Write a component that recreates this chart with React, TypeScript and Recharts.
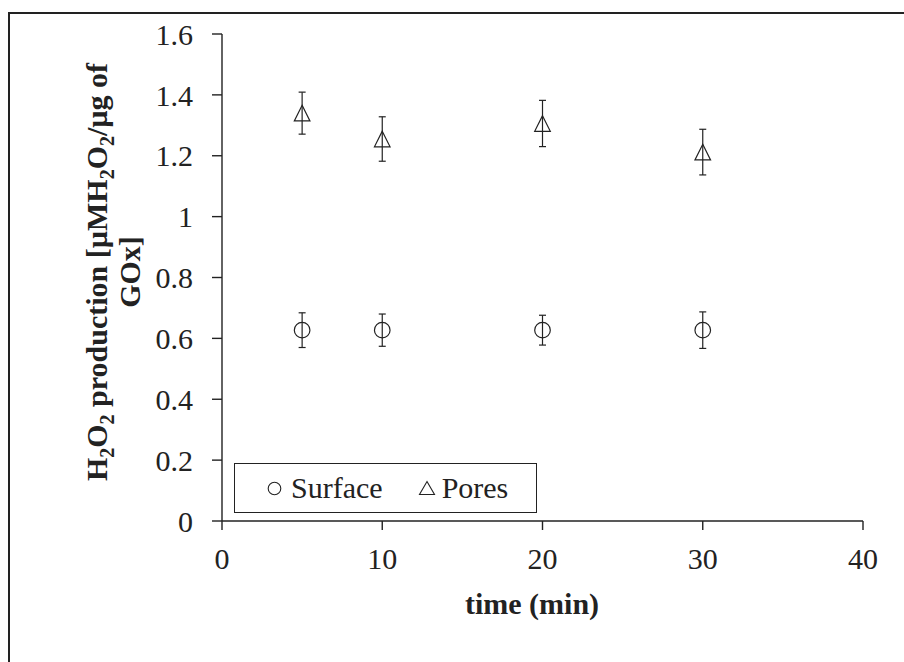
import React from "react";
import {
  ScatterChart,
  Scatter,
  XAxis,
  YAxis,
  ErrorBar,
  Legend,
  Label,
} from "recharts";

const times = [5, 10, 20, 30];
const surfaceValues = [0.627, 0.627, 0.627, 0.627];
const surfaceErrors = [0.057, 0.053, 0.049, 0.06];
const poresValues = [1.34, 1.255, 1.306, 1.212];
const poresErrors = [0.069, 0.073, 0.076, 0.075];
const xTicks = [0, 10, 20, 30, 40];
const yTicks = [0, 0.2, 0.4, 0.6, 0.8, 1, 1.2, 1.4, 1.6];
const seriesNames = ["Surface", "Pores"];

const surfaceData = times.map((t, i) => ({ x: t, y: surfaceValues[i], err: surfaceErrors[i] }));
const poresData = times.map((t, i) => ({ x: t, y: poresValues[i], err: poresErrors[i] }));

const FONT = "Liberation Serif, Times New Roman, serif";
const INK = "#222";

const CircleShape = (props: any) => {
  const { cx, cy } = props;
  return <circle cx={cx} cy={cy} r={7.8} fill="none" stroke={INK} strokeWidth={1.2} />;
};

const TriangleShape = (props: any) => {
  const { cx, cy } = props;
  const h = 7.8;
  return (
    <path
      d={`M${cx},${cy - h} L${cx + h},${cy + h} L${cx - h},${cy + h} Z`}
      fill="none"
      stroke={INK}
      strokeWidth={1.2}
    />
  );
};

const YTitle = () => {
  const fs = 30;
  const sub = 20;
  const cy = 272;
  const x1 = 107;
  const x2 = 140;
  return (
    <g fontFamily={FONT} fontWeight="bold" fontSize={fs} fill={INK}>
      <text x={x1} y={cy} textAnchor="middle" transform={`rotate(-90, ${x1}, ${cy})`}>
        H<tspan fontSize={sub} dy={7}>2</tspan>
        <tspan dy={-7}>O</tspan>
        <tspan fontSize={sub} dy={7}>2</tspan>
        <tspan dy={-7}> production [µMH</tspan>
        <tspan fontSize={sub} dy={7}>2</tspan>
        <tspan dy={-7}>O</tspan>
        <tspan fontSize={sub} dy={7}>2</tspan>
        <tspan dy={-7}>/µg of</tspan>
      </text>
      <text x={x2} y={cy} textAnchor="middle" transform={`rotate(-90, ${x2}, ${cy})`}>
        GOx]
      </text>
    </g>
  );
};

const XTitle = () => (
  <text
    x={532}
    y={614}
    textAnchor="middle"
    fontFamily={FONT}
    fontWeight="bold"
    fontSize={30}
    fill={INK}
  >
    time (min)
  </text>
);

const LegendBox = () => (
  <div
    style={{
      boxSizing: "border-box",
      width: 303,
      height: 50,
      border: `1.5px solid ${INK}`,
      display: "flex",
      alignItems: "center",
      paddingLeft: 32,
      fontFamily: FONT,
      fontSize: 30,
      lineHeight: "30px",
      color: INK,
      background: "#fff",
    }}
  >
    <svg width={15} height={15} style={{ marginRight: 9 }}>
      <circle cx={7.5} cy={7.5} r={6.3} fill="none" stroke={INK} strokeWidth={1.1} />
    </svg>
    <span style={{ fontFamily: FONT }}>{seriesNames[0]}</span>
    <svg width={18} height={16} style={{ marginLeft: 35, marginRight: 6 }}>
      <path d="M9,1.5 L16.5,14.5 L1.5,14.5 Z" fill="none" stroke={INK} strokeWidth={1.1} />
    </svg>
    <span style={{ fontFamily: FONT }}>{seriesNames[1]}</span>
  </div>
);

export default function App() {
  return (
    <div
      style={{
        position: "fixed",
        left: 0,
        top: 0,
        width: 904,
        height: 662,
        overflow: "hidden",
        background: "#fff",
        fontFamily: FONT,
      }}
    >
      <div
        style={{
          position: "absolute",
          left: 8,
          top: 12,
          width: 1000,
          height: 1000,
          borderLeft: `2px solid ${INK}`,
          borderTop: `2px solid ${INK}`,
        }}
      />
      <div style={{ position: "absolute", left: 0, top: 0 }}>
        <ScatterChart
          width={904}
          height={662}
          margin={{ top: 34, right: 41, bottom: 0, left: 0 }}
          style={{ fontFamily: FONT }}
        >
          <XAxis
            xAxisId="main"
            dataKey="x"
            type="number"
            domain={[0, 40]}
            ticks={xTicks}
            height={141}
            tickSize={9}
            tickMargin={18}
            stroke={INK}
            strokeWidth={1.4}
            tick={{ fontFamily: FONT, fontSize: 30, fill: INK }}
            allowDataOverflow
          >
            <Label content={<XTitle />} />
          </XAxis>
          <XAxis
            xAxisId="top"
            orientation="top"
            type="number"
            domain={[0, 40]}
            height={0}
            tick={false}
            tickLine={false}
            stroke={INK}
            strokeWidth={1.4}
          />
          <YAxis
            yAxisId="main"
            dataKey="y"
            type="number"
            domain={[0, 1.6]}
            ticks={yTicks}
            width={222}
            tickSize={10}
            tickMargin={19}
            stroke={INK}
            strokeWidth={1.4}
            tick={{ fontFamily: FONT, fontSize: 30, fill: INK }}
            allowDataOverflow
          >
            <Label content={<YTitle />} />
          </YAxis>
          <YAxis
            yAxisId="right"
            orientation="right"
            type="number"
            domain={[0, 1.6]}
            width={0}
            tick={false}
            tickLine={false}
            stroke={INK}
            strokeWidth={1.4}
          />
          <Legend
            layout="horizontal"
            verticalAlign="middle"
            align="center"
            content={<LegendBox />}
            wrapperStyle={{ left: 234, top: 463, width: 303, height: 50 }}
          />
          <Scatter
            name={seriesNames[0]}
            data={surfaceData}
            xAxisId="main"
            yAxisId="main"
            shape={<CircleShape />}
            isAnimationActive={false}
          >
            <ErrorBar dataKey="err" direction="y" width={3.5} stroke={INK} strokeWidth={1.2} />
          </Scatter>
          <Scatter
            name={seriesNames[1]}
            data={poresData}
            xAxisId="main"
            yAxisId="main"
            shape={<TriangleShape />}
            isAnimationActive={false}
          >
            <ErrorBar dataKey="err" direction="y" width={3.5} stroke={INK} strokeWidth={1.2} />
          </Scatter>
        </ScatterChart>
      </div>
    </div>
  );
}
